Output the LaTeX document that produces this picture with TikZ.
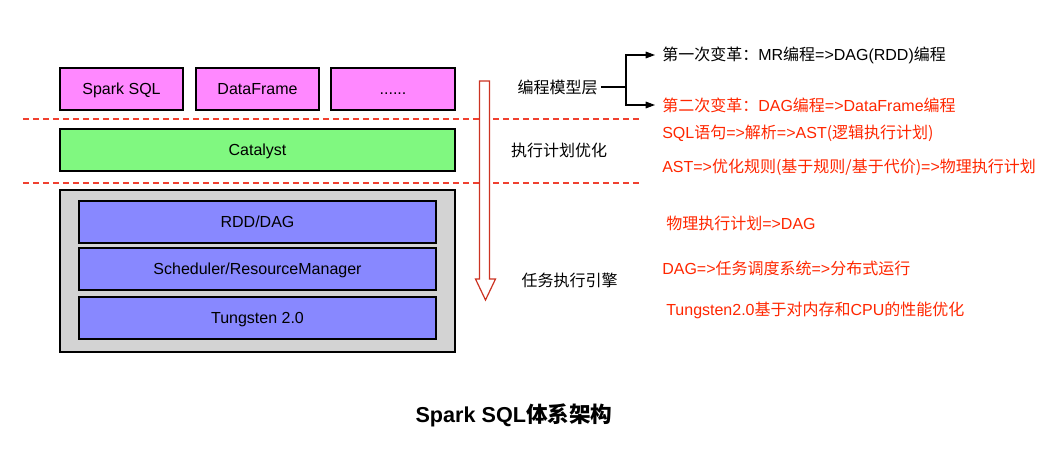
\documentclass[tikz,border=0pt]{standalone}
\usepackage{fontspec}
\setmainfont{Liberation Sans}
\newfontfamily\cjk{Noto Sans CJK SC}
\usetikzlibrary{arrows.meta}
\definecolor{pinkfill}{RGB}{255,136,255}
\definecolor{greenfill}{RGB}{128,248,128}
\definecolor{bluefill}{RGB}{136,136,255}
\definecolor{grayfill}{RGB}{211,211,211}
\definecolor{redtext}{RGB}{255,38,0}
\definecolor{dashred}{RGB}{240,64,48}
\definecolor{arrowred}{RGB}{204,51,34}
\tikzset{
  box/.style={draw=black,line width=0.8pt,inner sep=0pt,minimum height=42*0.75pt,
    text height=8.6pt,text depth=0pt,
    font=\fontsize{12}{14}\selectfont},
  layerlabel/.style={inner sep=0pt,font=\fontsize{12}{14}\selectfont},
  note/.style={inner sep=0pt,anchor=west,font=\fontsize{12}{14}\selectfont},
  rednote/.style={note,text=redtext},
  sep/.style={draw=dashred,line width=0.8pt,dash pattern=on 4.5pt off 3pt},
  bracket/.style={draw=black,line width=0.8pt},
}
\begin{document}
\begin{tikzpicture}[x=0.75pt,y=-0.75pt]
\useasboundingbox (0,0) rectangle (1059,459);
% top layer
\node[box,fill=pinkfill,minimum width=123*0.75pt] (sql) at (121.5,89) {Spark SQL};
\node[box,fill=pinkfill,minimum width=123*0.75pt] (df) at (257.5,89) {DataFrame};
\node[box,fill=pinkfill,minimum width=124*0.75pt] (dots) at (393,89) {......};
% separators
\coordinate (s1a) at (23,119); \coordinate (s1b) at (640,119);
\coordinate (s2a) at (23,183); \coordinate (s2b) at (640,183);
\draw[sep] (s1a) -- (s1b);
\draw[sep] (s2a) -- (s2b);
% catalyst
\node[box,fill=greenfill,minimum width=395*0.75pt] (cat) at (257.5,150) {Catalyst};
% engine
\node[box,fill=grayfill,minimum width=395*0.75pt,minimum height=162*0.75pt] (eng) at (257.5,271) {};
\node[box,fill=bluefill,minimum width=357*0.75pt] (rdd) at (257.5,222) {RDD/DAG};
\node[box,fill=bluefill,minimum width=357*0.75pt] (sch) at (257.5,269) {Scheduler/ResourceManager};
\node[box,fill=bluefill,minimum width=357*0.75pt] (tun) at (257.5,318) {Tungsten 2.0};
% big hollow arrow
\draw[draw=arrowred,fill=white,line width=0.9pt,line join=miter]
  (479.5,81) -- (489.5,81) -- (489.5,279) -- (495.5,279) -- (485.5,300)
  -- (475.5,279) -- (479.5,279) -- cycle;
% layer labels
\node[layerlabel] (l1) at (557.5,87) {\cjk 编程模型层};
\node[layerlabel] (l2) at (559,150) {\cjk 执行计划优化};
\node[layerlabel] (l3) at (569.5,280) {\cjk 任务执行引擎};
% notes
\node[note] (n1) at (662,55) {{\cjk 第一次变革：}MR{\cjk 编程}=>DAG(RDD){\cjk 编程}};
\node[rednote] (n2) at (662,105) {{\cjk 第二次变革：}DAG{\cjk 编程}=>DataFrame{\cjk 编程}};
\node[rednote] (n3) at (662,133) {SQL{\cjk 语句}=>{\cjk 解析}=>AST{\cjk (逻辑执行计划)}};
\node[rednote] (n4) at (662,167) {AST=>{\cjk 优化规则(基于规则/基于代价)}=>{\cjk 物理执行计划}};
\node[rednote] (n5) at (666,223) {{\cjk 物理执行计划}=>DAG};
\node[rednote] (n6) at (662,268) {DAG=>{\cjk 任务调度系统}=>{\cjk 分布式运行}};
\node[rednote] (n7) at (666,310) {Tungsten2.0{\cjk 基于对内存和}CPU{\cjk 的性能优化}};
% bracket connectors
\coordinate (br) at (626,87);
\draw[bracket] (l1.east) ++(3*0.75pt,0) coordinate (l1e) -- (br);
\draw[bracket,-{Triangle[length=7pt,width=5pt]}] (br) |- ([xshift=-7*0.75pt]n1.west);
\draw[bracket,-{Triangle[length=7pt,width=5pt]}] (br) |- ([xshift=-7*0.75pt]n2.west);
% title
\node[inner sep=0pt,font=\fontsize{16.2}{19}\selectfont\bfseries] (title) at (514,415) {Spark SQL{\cjk\bfseries 体系架构}};
\end{tikzpicture}
\end{document}
